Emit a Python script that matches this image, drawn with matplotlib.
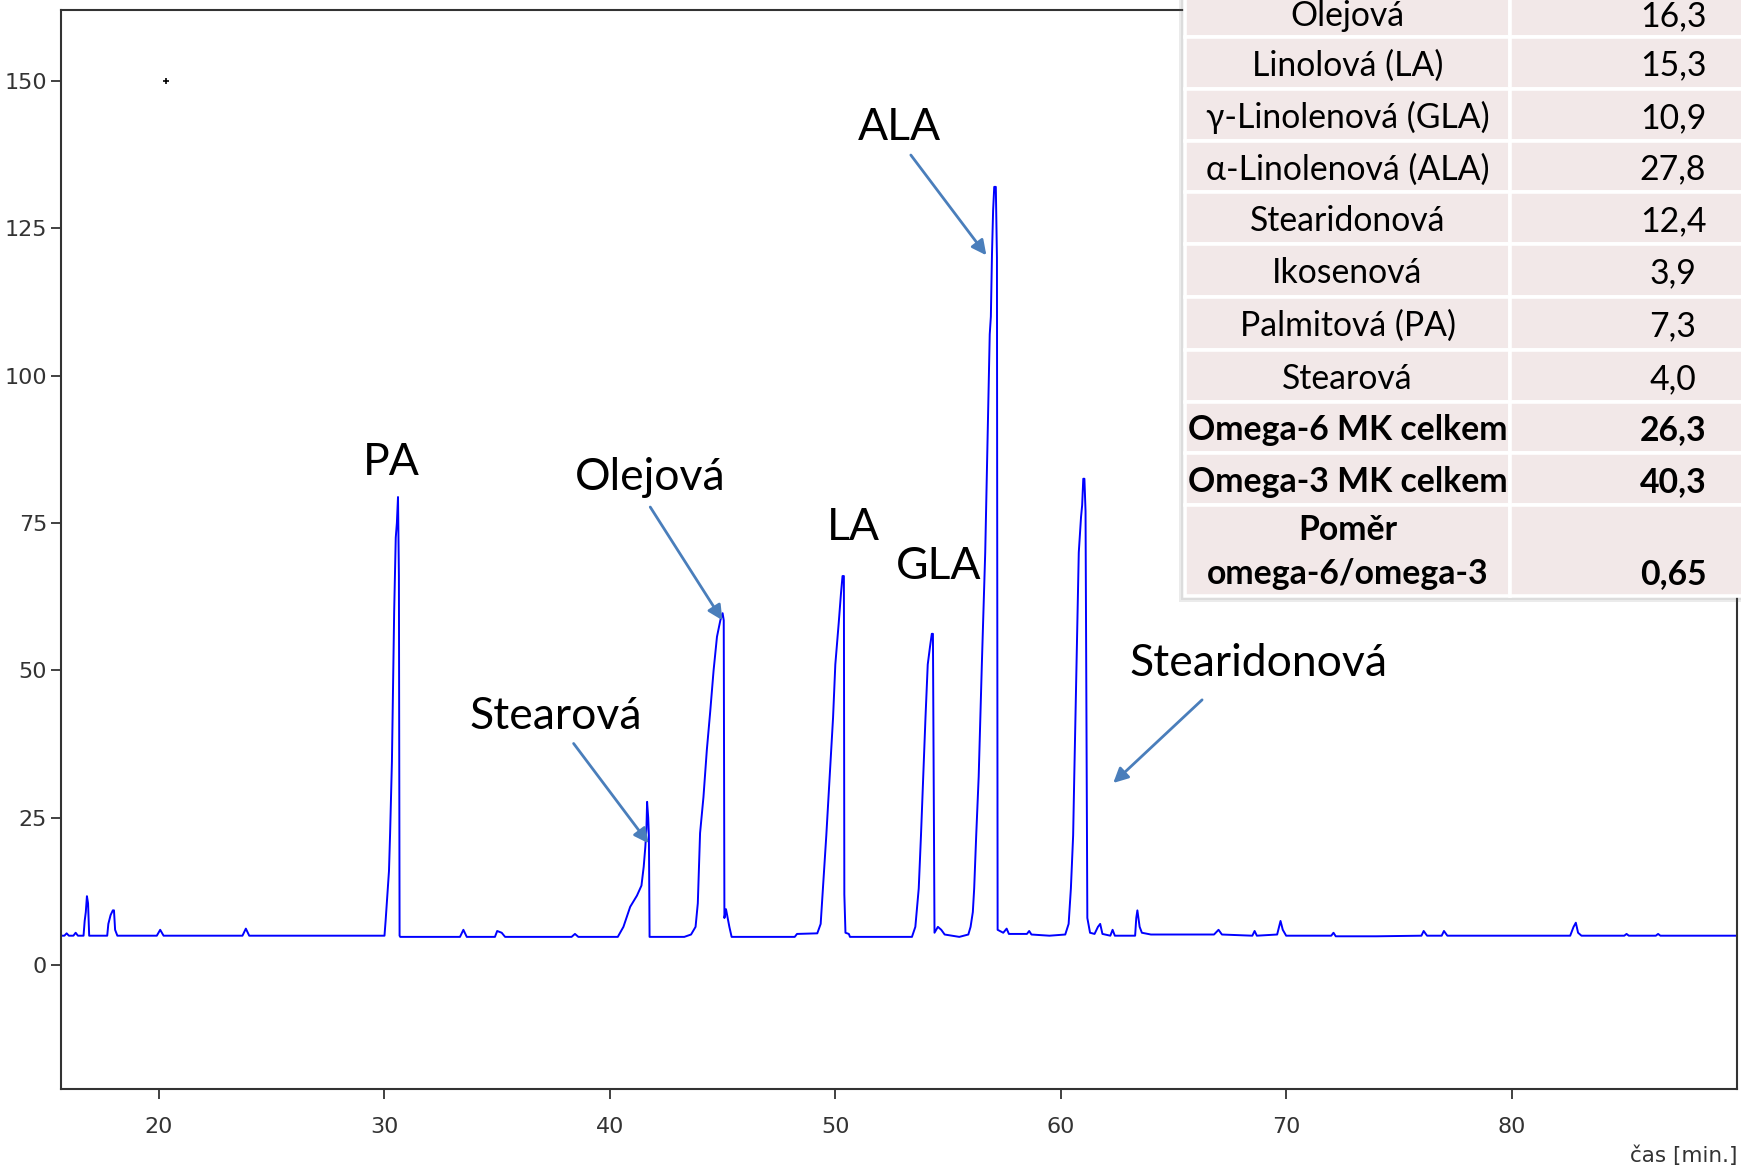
#!/usr/bin/env python3
"""Chromatogram of fatty acid methyl esters with a composition table."""

import matplotlib

matplotlib.use("Agg")
import matplotlib.pyplot as plt
from matplotlib.patches import Rectangle

# retention time [min] and detector signal
TIME = [
    15.65, 15.8, 15.9, 16.0, 16.2, 16.3, 16.4, 16.65, 16.7, 16.75, 16.8, 16.85, 16.9,
    17.7, 17.75, 17.85, 17.95, 18.0, 18.05, 18.15, 19.9, 20.05, 20.2, 23.7, 23.85, 24.0,
    30.0, 30.05, 30.12, 30.2, 30.25, 30.33, 30.38, 30.43, 30.5, 30.55, 30.6, 30.64, 30.67,
    30.7, 33.35, 33.5, 33.65, 34.9, 35.0, 35.2, 35.35, 38.3, 38.45, 38.6,
    40.35, 40.6, 40.9, 41.2, 41.4, 41.5, 41.57, 41.62, 41.65, 41.7, 41.73, 41.76,
    43.3, 43.6, 43.8, 43.9, 44.0, 44.15, 44.3, 44.45, 44.6, 44.75, 44.9, 45.0, 45.05,
    45.08, 45.15, 45.2, 45.3, 45.4, 48.2, 48.3, 49.2, 49.35, 49.45, 49.6, 49.75, 49.9,
    50.0, 50.15, 50.25, 50.32, 50.38, 50.4, 50.45, 50.6, 50.65,
    53.4, 53.55, 53.7, 53.8, 53.9, 54.0, 54.1, 54.2, 54.28, 54.33, 54.36, 54.4,
    54.55, 54.7, 54.85, 55.5, 55.9, 56.0, 56.1, 56.16, 56.25, 56.36, 56.5, 56.65,
    56.75, 56.85, 56.9, 56.95, 57.0, 57.05, 57.12, 57.17, 57.2, 57.3, 57.45, 57.6,
    57.7, 58.5, 58.6, 58.7, 59.5, 60.2, 60.35, 60.45, 60.55, 60.6, 60.7, 60.8, 60.9,
    60.95, 61.0, 61.05, 61.1, 61.18, 61.3, 61.5, 61.65, 61.75, 61.85, 62.2, 62.3, 62.4,
    63.3, 63.35, 63.4, 63.5, 63.6, 64.0, 66.8, 67.0, 67.15, 68.5, 68.6, 68.7, 69.6,
    69.75, 69.85, 70.0, 72.0, 72.1, 72.2, 74.0, 76.0, 76.1, 76.25, 76.9, 77.0, 77.15,
    82.6, 82.75, 82.85, 82.95, 83.1, 85.0, 85.1, 85.2, 86.4, 86.5, 86.6, 90.0,
]
SIGNAL = [
    5.0, 5.0, 5.4, 5.0, 5.0, 5.5, 5.0, 5.0, 7.5, 9.0, 11.7, 10.5, 5.0,
    5.0, 7.0, 8.5, 9.3, 9.3, 6.0, 5.0, 5.0, 6.0, 5.0, 5.0, 6.2, 5.0,
    5.0, 7.5, 11.6, 16.0, 22.4, 34.5, 47.0, 60.0, 72.5, 75.0, 79.4, 66.0, 5.0,
    4.8, 4.8, 6.0, 4.8, 4.8, 5.8, 5.5, 4.8, 4.8, 5.3, 4.8,
    4.8, 6.5, 9.9, 11.8, 13.5, 16.7, 20.0, 23.0, 27.7, 25.0, 22.0, 4.8,
    4.8, 5.2, 6.5, 10.5, 22.4, 28.5, 36.5, 43.0, 50.0, 55.7, 58.5, 59.7, 58.5,
    8.0, 9.5, 8.5, 6.5, 4.8, 4.8, 5.3, 5.4, 7.0, 13.0, 22.0, 32.0, 42.0,
    51.0, 58.0, 63.0, 66.0, 66.0, 12.0, 5.5, 5.3, 4.8,
    4.8, 6.5, 13.0, 22.0, 32.0, 42.0, 51.0, 54.0, 56.2, 56.2, 35.0, 5.5,
    6.5, 6.0, 5.2, 4.8, 5.2, 6.5, 9.0, 13.0, 22.0, 32.0, 51.0, 70.0,
    88.6, 107.0, 110.0, 120.6, 128.0, 132.0, 132.0, 120.0, 6.0, 5.8, 5.5, 6.2,
    5.3, 5.3, 5.8, 5.2, 5.0, 5.2, 7.0, 13.0, 22.0, 32.0, 51.0, 70.0, 76.0,
    78.0, 82.5, 82.5, 77.0, 8.0, 5.5, 5.3, 6.5, 7.0, 5.3, 5.0, 6.0, 5.0,
    5.0, 8.0, 9.3, 6.5, 5.5, 5.2, 5.2, 6.0, 5.2, 5.0, 5.8, 5.0, 5.2,
    7.5, 6.0, 5.0, 5.0, 5.5, 4.9, 4.9, 5.0, 5.8, 5.0, 5.0, 5.8, 5.0,
    5.0, 6.5, 7.2, 5.5, 5.0, 5.0, 5.3, 5.0, 5.0, 5.3, 5.0, 5.0,
]
STRAY_T = [20.3]
STRAY_V = [150.0]

X_TICKS = [20, 30, 40, 50, 60, 70, 80]
Y_TICKS = [0, 25, 50, 75, 100, 125, 150]

TABLE_NAMES = [
    "Olejová", "Linolová (LA)", "γ-Linolenová (GLA)", "α-Linolenová (ALA)",
    "Stearidonová", "Ikosenová", "Palmitová (PA)", "Stearová",
    "Omega-6 MK celkem", "Omega-3 MK celkem", "Poměr\nomega-6/omega-3",
]
TABLE_VALUES = ["16,3", "15,3", "10,9", "27,8", "12,4", "3,9", "7,3", "4,0",
                "26,3", "40,3", "0,65"]

W, H = 1741, 1166
LABEL_FONT = ["Lato", "DejaVu Sans"]
BLUE_ARROW = "#4A7EBB"

fig = plt.figure(figsize=(W / 100, H / 100), dpi=100)
ax = fig.add_axes([61 / W, 1 - 1089 / H, (1737 - 61) / W, (1089 - 10) / H])

ax.plot(TIME, SIGNAL, color="#0000FF", linewidth=1.4)
ax.plot(STRAY_T, STRAY_V, marker="+", color="black", markersize=4, mew=1.2, linestyle="none")

ax.set_xlim(15.65, 90.0)
ax.set_ylim(-21.0, 162.0)
ax.set_xticks(X_TICKS)
ax.set_yticks(Y_TICKS)
for s in ax.spines.values():
    s.set_color("#333333")
    s.set_linewidth(1.5)
ax.tick_params(axis="both", direction="out", length=7, width=1.3, color="#333333",
               labelcolor="#333333", labelsize=16)
ax.tick_params(axis="x", pad=13)
ax.tick_params(axis="y", pad=3)
fig.text(1737 / W, 1 - 1156 / H, "čas [min.]", ha="right", va="center",
         fontsize=15.5, color="#333333")

# peak labels (text centre) and arrows (tail -> tip)
labels = [
    ("PA", 30.29, 85.2),
    ("Olejová", 41.77, 82.7),
    ("Stearová", 37.58, 42.2),
    ("LA", 50.79, 74.3),
    ("GLA", 54.59, 67.7),
    ("ALA", 52.86, 142.1),
    ("Stearidonová", 68.78, 51.2),
]
for name, tx, ty in labels:
    ax.text(tx, ty, name, ha="center", va="center", fontsize=32, family=LABEL_FONT,
            color="black", zorder=4)

arrows = [
    ((41.79, 77.7), (44.99, 58.5)),
    ((38.39, 37.6), (41.72, 20.65)),
    ((53.35, 137.4), (56.70, 120.4)),
    ((66.27, 45.0), (62.33, 30.9)),
]
for tail, tip in arrows:
    ax.annotate("", xy=tip, xytext=tail,
                arrowprops=dict(arrowstyle="-|>", color=BLUE_ARROW, lw=2.0,
                                mutation_scale=22, shrinkA=0, shrinkB=0),
                zorder=4)

# composition table overlay in pixel units
ov = fig.add_axes([0, 0, 1, 1], zorder=10)
ov.set_xlim(0, W)
ov.set_ylim(H, 0)
ov.axis("off")
ov.patch.set_alpha(0)

row_edges = [-15, 36.6, 88.8, 141, 192, 244, 296.5, 350, 402, 453, 505, 596]
x0, xmid, x1 = 1185, 1510, 1840
xval = 1673

for k, a in enumerate([0.10, 0.10, 0.12]):
    off = 2 + 2 * k
    ov.add_patch(Rectangle((x0 - off, row_edges[0]), x1 - x0 + off, row_edges[-1] - row_edges[0] + off,
                           facecolor="#606060", edgecolor="none", alpha=a))

for i, (name, value) in enumerate(zip(TABLE_NAMES, TABLE_VALUES)):
    top, bot = row_edges[i], row_edges[i + 1]
    for cx0, cx1 in [(x0, xmid), (xmid, x1)]:
        ov.add_patch(Rectangle((cx0, top), cx1 - cx0, bot - top, facecolor="#F2E8E8",
                               edgecolor="white", linewidth=2.6))
    bold = i >= 8
    weight = "bold" if bold else "normal"
    size = 24.3
    if "\n" in name:
        first, second = name.split("\n")
        ov.text((x0 + xmid) / 2, 530, first, ha="center", va="center", fontsize=size,
                fontweight=weight, family=LABEL_FONT)
        ov.text((x0 + xmid) / 2, 574, second, ha="center", va="center", fontsize=size,
                fontweight=weight, family=LABEL_FONT)
        ov.text(xval, 574, value, ha="center", va="center", fontsize=size,
                fontweight=weight, family=LABEL_FONT)
    else:
        yb = (top + bot) / 2 + 13 if i > 0 else 26
        ov.text((x0 + xmid) / 2, yb, name, ha="center", va="baseline", fontsize=size,
                fontweight=weight, family=LABEL_FONT)
        ov.text(xval, yb, value, ha="center", va="baseline", fontsize=size,
                fontweight=weight, family=LABEL_FONT)

fig.savefig("out.png", dpi=100)
plt.close(fig)
